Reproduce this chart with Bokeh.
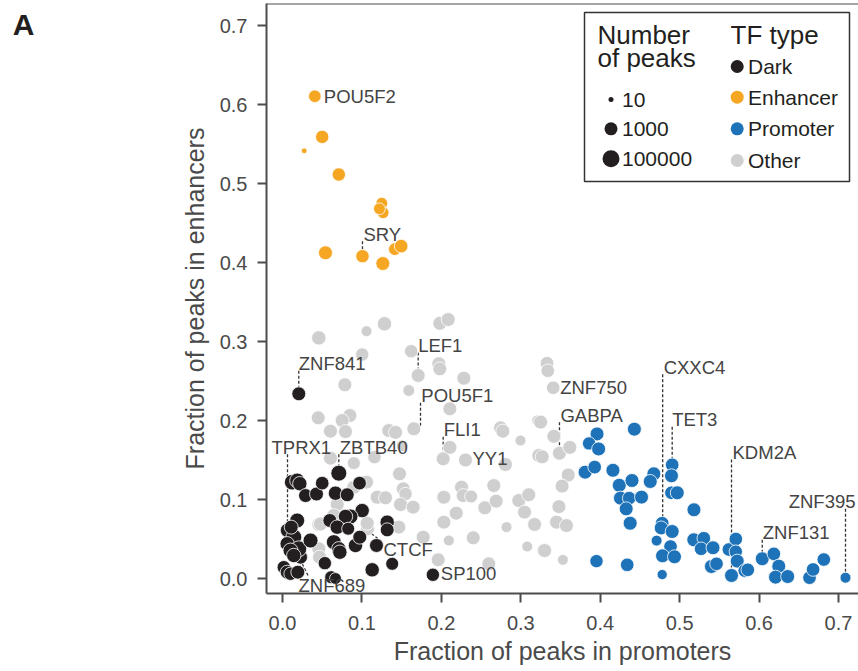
import numpy as np
from bokeh.plotting import figure
from bokeh.models import (ColumnDataSource, FixedTicker, PrintfTickFormatter, Span, Range1d,
                          LinearAxis, CustomJSTickFormatter)
from bokeh.embed import file_html
from bokeh.resources import INLINE
from bokeh.core.properties import value

# ---------------- data ----------------
# Dark TFs (labelled ones first)
dark_names = ["ZNF841", "ZBTB40", "TPRX1", "ZNF689", "SP100"]
dark_x = [0.0205, 0.0709, 0.0063, 0.0227, 0.1893,
          0.0122, 0.0185, 0.0218, 0.029, 0.0428, 0.05, 0.0667, 0.0815, 0.097, 0.1003,
          0.0856, 0.0793, 0.0596, 0.0689, 0.0827, 0.0185, 0.0142, 0.0059, 0.0205, 0.0101,
          0.0142, 0.0353, 0.0646, 0.0709, 0.0722, 0.0919, 0.0973, 0.1183, 0.1318, 0.1318,
          0.0533, 0.0016, 0.0059, 0.0101, 0.0193, 0.0613, 0.0667, 0.1129, 0.1381, 0.011]
dark_y = [0.2338, 0.1333, 0.061, 0.027, 0.0047,
          0.1219, 0.124, 0.12, 0.105, 0.107, 0.1207, 0.108, 0.106, 0.1207, 0.086,
          0.0785, 0.0785, 0.0734, 0.065, 0.063, 0.0734, 0.0523, 0.044, 0.0376, 0.0354,
          0.0291, 0.0481, 0.046, 0.0376, 0.0333, 0.0418, 0.0523, 0.0418, 0.0713, 0.0616,
          0.0194, 0.0143, 0.008, 0.006, 0.008, 0.0017, 0.0, 0.011, 0.0186, 0.065]
dark_peaks = [3000, 30000, 5000, 3000, 1500,
              20000, 10000, 5000, 3000, 3000, 2000, 5000, 3000, 2000, 5000,
              10000, 5000, 3000, 5000, 1000, 10000, 30000, 5000, 30000, 10000,
              5000, 10000, 10000, 5000, 5000, 5000, 3000, 3000, 5000, 3000,
              1500, 1500, 3000, 1500, 3000, 1000, 500, 5000, 1000, 3000]

# Enhancer TFs
enh_names = ["POU5F2", "SRY"]
enh_x = [0.0407, 0.1007, 0.050, 0.0273, 0.0709, 0.125, 0.1267, 0.122, 0.0541, 0.1263, 0.1414, 0.1494]
enh_y = [0.6105, 0.408, 0.559, 0.5414, 0.5114, 0.475, 0.463, 0.468, 0.4123, 0.3987, 0.4169, 0.4207]
enh_peaks = [800, 1500, 1500, 15, 1500, 500, 500, 500, 3000, 3000, 800, 2000]

# Promoter TFs
pro_names = ["CXXC4", "TET3", "KDM2A", "ZNF131", "ZNF395"]
pro_x = [0.478, 0.4906, 0.5653, 0.604, 0.7088,
         0.396, 0.386, 0.398, 0.443, 0.381, 0.393, 0.416, 0.424, 0.440, 0.4255,
         0.4365, 0.452, 0.4327, 0.4377, 0.4675, 0.463, 0.4897, 0.4897, 0.497, 0.518,
         0.4768, 0.4906, 0.471, 0.4885, 0.4784, 0.4935, 0.478, 0.3953, 0.434, 0.5178,
         0.5304, 0.527, 0.542, 0.540, 0.5464, 0.562, 0.5707, 0.5707, 0.5725, 0.582,
         0.5858, 0.6186, 0.6248, 0.6207, 0.636, 0.6635, 0.668, 0.6815]
pro_y = [0.070, 0.1439, 0.0038, 0.025, 0.001,
         0.183, 0.171, 0.164, 0.189, 0.1346, 0.141, 0.137, 0.118, 0.124, 0.1017,
         0.1017, 0.103, 0.0882, 0.070, 0.1325, 0.1228, 0.130, 0.1085, 0.1085, 0.087,
         0.064, 0.0595, 0.048, 0.0405, 0.0287, 0.0275, 0.005, 0.022, 0.0173, 0.049,
         0.051, 0.0376, 0.0389, 0.0152, 0.0186, 0.0367, 0.050, 0.034, 0.022, 0.010,
         0.011, 0.0312, 0.0156, 0.0017, 0.0025, 0.001, 0.0114, 0.024]
pro_peaks = [2000, 2000, 3000, 3000, 300,
             3000, 1500, 3000, 3000, 3000, 2000, 3000, 3000, 3000, 3000,
             2000, 3000, 3000, 3000, 3000, 3000, 3000, 2000, 3000, 3000,
             3000, 3000, 300, 2000, 3000, 3000, 200, 1500, 2000, 3000,
             2000, 2000, 3000, 3000, 2000, 2000, 2000, 1500, 3000, 2000,
             2000, 2000, 3000, 3000, 3000, 2000, 2000, 2000]

# Other TFs
oth_names = ["LEF1", "POU5F1", "FLI1", "YY1", "ZNF750", "GABPA", "CTCF"]
oth_x = [0.1708, 0.1653, 0.2023, 0.2304, 0.3408, 0.3487, 0.107,
         0.0457, 0.1058, 0.1284, 0.198, 0.2086, 0.162, 0.1003, 0.1968, 0.198, 0.2283,
         0.0785, 0.159, 0.2107, 0.045, 0.0848, 0.0752, 0.0604, 0.0793, 0.1338, 0.1423,
         0.1507, 0.1158, 0.0604, 0.0898, 0.2107, 0.1058, 0.1473, 0.0898, 0.152, 0.1549,
         0.1192, 0.1297, 0.2031, 0.2254, 0.2275, 0.2375, 0.266, 0.1486, 0.1645, 0.0689,
         0.0457, 0.0752, 0.1066, 0.1464, 0.2031, 0.2187, 0.1771, 0.2094, 0.2401, 0.2547,
         0.269, 0.2807, 0.2745, 0.2774, 0.2975, 0.31, 0.3047, 0.282, 0.3173, 0.3081,
         0.329, 0.3227, 0.3207, 0.2996, 0.333, 0.334, 0.325, 0.3416, 0.3617, 0.327,
         0.3597, 0.352, 0.348, 0.345, 0.3575, 0.33, 0.353, 0.196, 0.2597, 0.0478,
         0.0457, 0.0466, 0.0646]
oth_y = [0.257, 0.1895, 0.1515, 0.150, 0.2414, 0.1586, 0.063,
         0.3046, 0.313, 0.3224, 0.323, 0.3278, 0.2877, 0.2835, 0.2718, 0.2654, 0.2535,
         0.2452, 0.238, 0.2148, 0.2034, 0.2063, 0.2, 0.1865, 0.186, 0.1873, 0.185,
         0.168, 0.1536, 0.1523, 0.146, 0.166, 0.122, 0.1325, 0.1155, 0.1135, 0.107,
         0.1029, 0.1021, 0.1029, 0.1156, 0.105, 0.1038, 0.1177, 0.0937, 0.0903, 0.0937,
         0.0684, 0.0776, 0.07, 0.065, 0.0713, 0.0827, 0.0523, 0.0481, 0.0515, 0.0895,
         0.0979, 0.1443, 0.1907, 0.1865, 0.0987, 0.106, 0.084, 0.065, 0.0684, 0.0405,
         0.0354, 0.1557, 0.2, 0.1747, 0.2725, 0.263, 0.198, 0.180, 0.166, 0.154,
         0.131, 0.117, 0.091, 0.0713, 0.067, 0.0354, 0.0236, 0.0237, 0.0186, 0.069,
         0.0376, 0.027, 0.0797]
oth_peaks = [3000, 3000, 3000, 3000, 2000, 3000, 3000,
             5000, 300, 5000, 3000, 3000, 1500, 1500, 3000, 3000, 3000,
             3000, 500, 3000, 3000, 3000, 3000, 3000, 3000, 3000, 3000,
             500, 1500, 3000, 1000, 3000, 3000, 3000, 3000, 3000, 1500,
             3000, 3000, 3000, 3000, 3000, 1000, 3000, 3000, 3000, 3000,
             3000, 3000, 3000, 3000, 3000, 3000, 3000, 300, 3000, 3000,
             3000, 3000, 3000, 3000, 3000, 3000, 3000, 300, 3000, 300,
             3000, 3000, 300, 300, 2000, 2000, 3000, 3000, 3000, 3000,
             3000, 3000, 3000, 3000, 3000, 3000, 300, 3000, 3000, 3000,
             3000, 3000, 3000]

legend_peaks = [10, 1000, 100000]
legend_types = ["Dark", "Enhancer", "Promoter", "Other"]
panel_letter = "A"

x_ticks = [0.0, 0.1, 0.2, 0.3, 0.4, 0.5, 0.6, 0.7]
y_ticks = [0.0, 0.1, 0.2, 0.3, 0.4, 0.5, 0.6, 0.7]

# ---------------- style / layout ----------------
COLORS = {"Dark": "#231f20", "Enhancer": "#f5a623", "Promoter": "#1d72b8", "Other": "#cfcfcf"}
FONT = "Liberation Sans"
TXT = "#4a4a4a"
W, H = 858, 671
SX = 794.3   # px per unit x
SY = 790.0   # px per unit y
X_ORIG, Y_ORIG = 282.0, 578.0   # canvas px of data origin
F_LEFT, F_RIGHT, F_TOP, F_BOTTOM = 266, 858, 3, 593


def rx(px):
    return (px - X_ORIG) / SX


def ry(py):
    return (Y_ORIG - py) / SY


def size_of(peaks):
    return np.interp(np.log10(np.asarray(peaks, float)), [1, 3, 5], [5, 13, 17])


X0, X1 = rx(F_LEFT), rx(F_RIGHT)
Y0, Y1 = ry(F_BOTTOM), ry(F_TOP)

p = figure(width=W, height=H, output_backend="svg", toolbar_location=None,
           x_range=Range1d(X0, X1), y_range=Range1d(Y0, Y1),
           min_border_left=F_LEFT, min_border_right=W - F_RIGHT,
           min_border_top=F_TOP, min_border_bottom=H - F_BOTTOM)
p.outline_line_color = None
p.grid.visible = False
p.background_fill_color = "white"
p.border_fill_color = "white"

for ax in (p.xaxis[0], p.yaxis[0]):
    ax.axis_line_color = "#4d4d4d"
    ax.axis_line_width = 2
    ax.major_tick_line_color = "#4d4d4d"
    ax.major_tick_line_width = 2
    ax.major_tick_out = 9
    ax.major_tick_in = 0
    ax.minor_tick_line_color = None
    ax.major_label_text_font = FONT
    ax.major_label_text_font_size = "20px"
    ax.major_label_text_color = TXT
    ax.axis_label_text_font = FONT
    ax.axis_label_text_font_size = "25px"
    ax.axis_label_text_font_style = "normal"
    ax.axis_label_text_color = TXT
    ax.formatter = PrintfTickFormatter(format="%.1f")

p.xaxis[0].ticker = FixedTicker(ticks=x_ticks)
p.yaxis[0].ticker = FixedTicker(ticks=y_ticks)
p.xaxis[0].axis_label = "Fraction of peaks in promoters"
p.yaxis[0].axis_label = "Fraction of peaks in enhancers"
p.xaxis[0].major_label_standoff = 13
p.xaxis[0].axis_label_standoff = 4
p.yaxis[0].major_label_standoff = 10
p.yaxis[0].axis_label_standoff = 8

# panel letter "A": drawn as the single tick label of an invisible outer left axis
letter_axis = LinearAxis(ticker=FixedTicker(ticks=[ry(24)]),
                         formatter=CustomJSTickFormatter(code=f"return '{panel_letter}'"),
                         axis_line_color=None, major_tick_line_color=None,
                         minor_tick_line_color=None, major_tick_out=0, major_tick_in=0,
                         minor_tick_out=0, minor_tick_in=0,
                         major_label_standoff=143, major_label_text_font=FONT,
                         major_label_text_font_size="30px", major_label_text_font_style="bold",
                         major_label_text_color="#231f20")
p.add_layout(letter_axis, "left")

p.add_layout(Span(location=Y1, dimension="width", line_color="#4d4d4d", line_width=2))

groups = [
    ("Other", oth_x, oth_y, oth_peaks, oth_names),
    ("Promoter", pro_x, pro_y, pro_peaks, pro_names),
    ("Enhancer", enh_x, enh_y, enh_peaks, enh_names),
    ("Dark", dark_x, dark_y, dark_peaks, dark_names),
]

# label layout: text anchor offset (px), alignment, leader segment offsets (px)
LABEL_STYLE = {
    "POU5F2": (9, 0, "left", None),
    "ZNF750": (7, 0, "left", None),
    "YY1": (7, -2, "left", None),
    "SP100": (8, -1, "left", None),
    "SRY": (1, -22, "left", ((0, -15), (0, -4))),
    "ZNF841": (0, -30, "left", ((0, -23), (0, 0))),
    "ZBTB40": (1, -26, "left", ((0, -19), (0, 0))),
    "TPRX1": (-16, -83, "left", ((0, -76), (0, 0))),
    "LEF1": (0, -30, "left", ((0, -23), (0, 0))),
    "POU5F1": (7.5, -33, "left", ((6.7, -26), (6.7, -3))),
    "FLI1": (0.5, -29, "left", ((0, -22), (0, 0))),
    "GABPA": (1, -38, "left", ((0, -31), (0, 0))),
    "CXXC4": (1.5, -156, "left", ((0.5, -149), (0.5, 0))),
    "TET3": (0, -45, "left", ((0, -38), (0, 0))),
    "KDM2A": (1, -123, "left", ((0, -116), (0, 0))),
    "ZNF131": (0.5, -26, "left", ((0, -19), (0, 0))),
    "ZNF395": (10, -76, "right", ((0, -69), (0, 0))),
    "CTCF": (16, 21, "left", ((4, 5), (16, 14))),
    "ZNF689": (-2, 28, "left", ((1.7, 6.6), (8.3, 20))),
}

lab = {"x": [], "y": [], "t": [], "a": []}
seg = {"x0": [], "y0": [], "x1": [], "y1": []}
for g, xs, ys, pk, names in groups:
    for i, nm in enumerate(names):
        dx, dy, al, ld = LABEL_STYLE[nm]
        lab["x"].append(xs[i] + dx / SX)
        lab["y"].append(ys[i] - dy / SY)
        lab["t"].append(nm)
        lab["a"].append(al)
        if ld is not None:
            (ax0, ay0), (ax1, ay1) = ld
            seg["x0"].append(xs[i] + ax0 / SX)
            seg["y0"].append(ys[i] - ay0 / SY)
            seg["x1"].append(xs[i] + ax1 / SX)
            seg["y1"].append(ys[i] - ay1 / SY)

p.segment(x0="x0", y0="y0", x1="x1", y1="y1", source=ColumnDataSource(seg),
          line_color="#333333", line_width=1.3, line_dash="3 2")

for g, xs, ys, pk, names in groups:
    src = ColumnDataSource(dict(x=xs, y=ys, s=size_of(pk)))
    p.scatter("x", "y", size="s", source=src, fill_color=COLORS[g],
              line_color="white", line_width=0.8)

p.text(x="x", y="y", text="t", text_align="a", source=ColumnDataSource(lab),
       text_baseline="middle", text_font=value(FONT), text_font_size="18.5px",
       text_color="#444444")

# ---------------- legend (drawn by hand) ----------------
p.quad(left=[rx(584)], right=[rx(849)], top=[ry(12)], bottom=[ry(181)],
       fill_color="white", line_color="#333333", line_width=1.5)
p.text(x=[rx(597), rx(597), rx(730)], y=[ry(34), ry(57), ry(34)],
       text=["Number", "of peaks", "TF type"], text_baseline="middle",
       text_font=value(FONT), text_font_size="26px", text_color="#231f20")
size_rows = [99, 128.3, 158.3]
p.scatter(x=[rx(610.5)] * 3, y=[ry(v) for v in size_rows], size=size_of(legend_peaks),
          fill_color="#231f20", line_color=None)
p.text(x=[rx(621.5)] * 3, y=[ry(v) for v in size_rows],
       text=[f"{v}" for v in legend_peaks], text_baseline="middle",
       text_font=value(FONT), text_font_size="21px", text_color="#231f20")
type_rows = [66, 96.7, 128.3, 160]
p.scatter(x=[rx(736.7)] * 4, y=[ry(v) for v in type_rows], size=13,
          fill_color=[COLORS[t] for t in legend_types], line_color=None)
p.text(x=[rx(747.5)] * 4, y=[ry(v) for v in type_rows],
       text=legend_types, text_baseline="middle",
       text_font=value(FONT), text_font_size="21px", text_color="#231f20")

open("out.html", "w").write(file_html(p, INLINE))
